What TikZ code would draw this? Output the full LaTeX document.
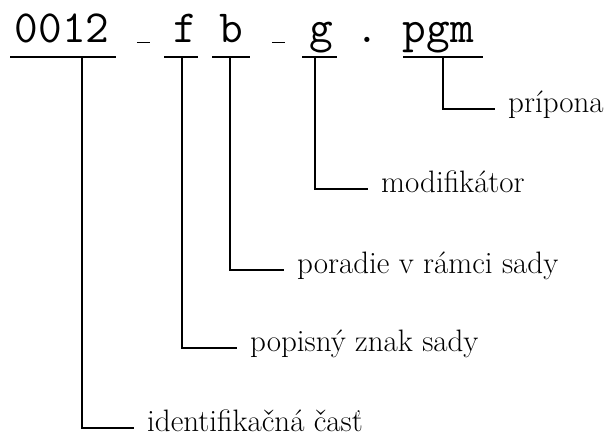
\documentclass[tikz,border=0pt]{standalone}
\usepackage{fontspec}
\begin{document}
\begin{tikzpicture}[x=1pt,y=-1pt,
  big/.style={inner sep=0pt, anchor=base, font=\fontsize{46}{50}\selectfont\ttfamily},
  usc/.style={inner sep=0pt, anchor=base},
  lbl/.style={inner xsep=13pt, inner ysep=0pt, anchor=west, text height=0.9em, text depth=0.2em, font=\fontsize{31}{34}\selectfont},
  uline/.style={line width=1.6pt},
  conn/.style={line width=1.4pt}]
\useasboundingbox (0,0) rectangle (607,441);
% top file name
\node[big] (t0012) at (62,43) {0012};
\node[usc] (us1) at (143.5,43) {\vbox{\hrule width 13.5pt height 0.9pt}};
\node[big] (tf) at (185,43) {f};
\node[big] (tb) at (231,43) {b};
\node[usc] (us2) at (278.5,43) {\vbox{\hrule width 13.5pt height 0.9pt}};
\node[big] (tg) at (321,43) {g};
\node[big] (dot) at (367,43) {.};
\node[big] (tpgm) at (438.5,43) {pgm};
% underlines
\draw[uline] (10,57) -- (116,57);
\draw[uline] (164,57) -- (198,57);
\draw[uline] (212,57) -- (250,57);
\draw[uline] (302,57) -- (337,57);
\draw[uline] (403,57) -- (483,57);
\coordinate (u1) at (82,57);
\coordinate (u2) at (182,57);
\coordinate (u3) at (230,57);
\coordinate (u4) at (315,57);
\coordinate (u5) at (443,57);
% labels
\node[lbl] (l5) at (495,109) {prípona};
\node[lbl] (l4) at (368,189) {modifikátor};
\node[lbl] (l3) at (284,270) {poradie v rámci sady};
\node[lbl] (l2) at (237,348) {popisný znak sady};
\node[lbl] (l1) at (134,428) {identifikačná časť};
% connectors
\draw[conn] (u5) |- (l5.west);
\draw[conn] (u4) |- (l4.west);
\draw[conn] (u3) |- (l3.west);
\draw[conn] (u2) |- (l2.west);
\draw[conn] (u1) |- (l1.west);
\end{tikzpicture}
\end{document}
